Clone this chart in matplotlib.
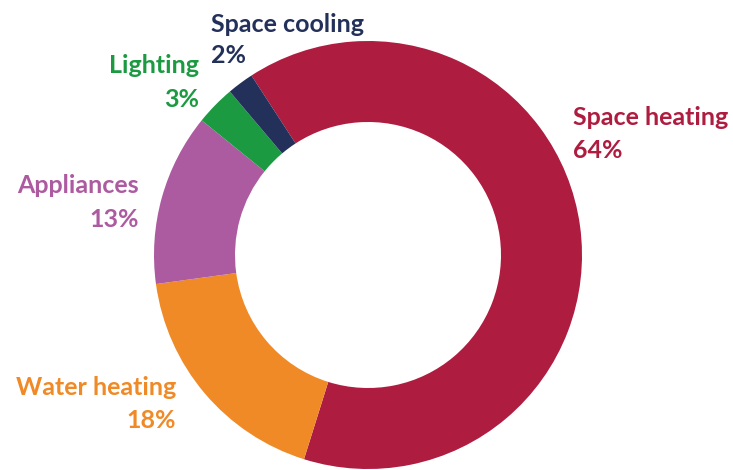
import matplotlib
matplotlib.use('Agg')
import matplotlib.pyplot as plt

# Residential energy consumption by end use (%)
categories = ['Space heating', 'Water heating', 'Appliances', 'Lighting', 'Space cooling']
shares = [64, 18, 13, 3, 2]
colors = ['#AE1C3F', '#EF8A27', '#AD5BA0', '#1C9A42', '#22305A']

W, H = 733, 470
fig = plt.figure(figsize=(W / 100, H / 100), dpi=100)
ax = fig.add_axes([0, 0, 1, 1])

cx, cy, r_out, r_in = 368, H - 255, 214, 133
ax.pie(shares, colors=colors, startangle=123, counterclock=False,
       center=(cx, cy), radius=r_out, frame=True,
       wedgeprops=dict(width=r_out - r_in, linewidth=0))
ax.set_xlim(0, W)
ax.set_ylim(0, H)
ax.set_aspect('equal')
ax.axis('off')

# label anchor: x, baseline of name, baseline of percent (pixels from top), alignment
label_pos = {
    'Space heating': (573, 125, 158, 'left'),
    'Water heating': (176, 395, 428, 'right'),
    'Appliances': (139, 193, 227, 'right'),
    'Lighting': (199, 73, 107, 'right'),
    'Space cooling': (211, 32, 63, 'left'),
}
for name, val, col in zip(categories, shares, colors):
    x, y1, y2, ha = label_pos[name]
    style = dict(color=col, ha=ha, va='baseline', fontsize=18,
                 fontweight='bold', family='Lato')
    ax.text(x, H - y1, name, **style)
    ax.text(x, H - y2, f'{val}%', **style)

fig.savefig('out.png', dpi=100)
